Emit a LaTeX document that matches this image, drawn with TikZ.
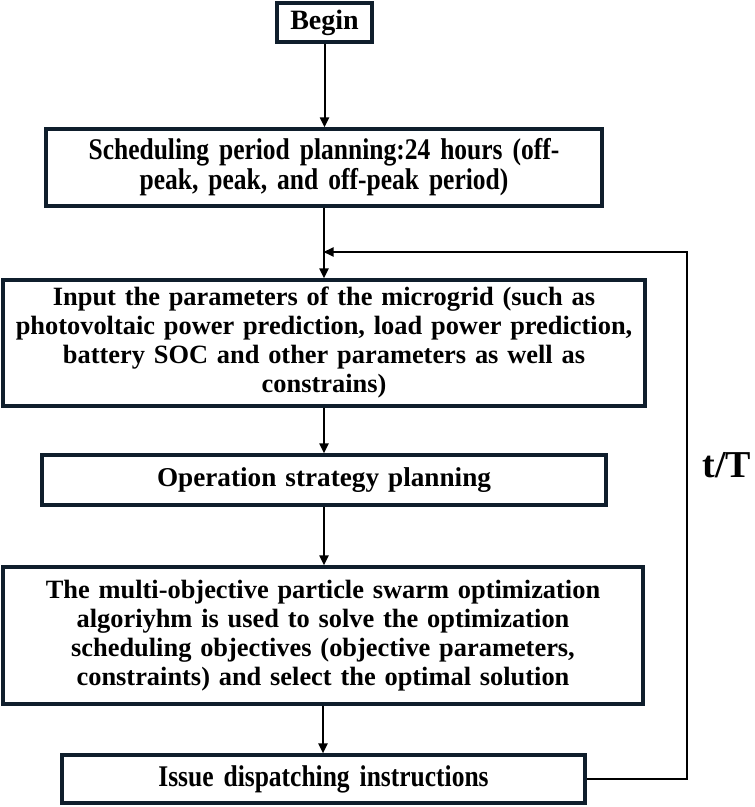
\documentclass[tikz,border=0pt]{standalone}
\usepackage{fontspec}
\setmainfont{Liberation Serif}
\newfontfamily\narrowserif[FakeStretch=0.85]{Liberation Serif}
\usetikzlibrary{arrows.meta,positioning}
\definecolor{boxnavy}{HTML}{0F1E2C}

\begin{document}
\begin{tikzpicture}[x=0.5pt,y=-0.5pt,
  every node/.style={font=\bfseries\fontsize{13.2}{14.5}\selectfont},
  box/.style={draw=boxnavy,line width=1.6pt,fill=white,align=center,inner sep=0pt},
  narrow/.style={font=\narrowserif\bfseries\fontsize{15}{15}\selectfont},
  flow/.style={line width=1pt,-{Triangle[length=5pt,width=4.5pt]}}]
\useasboundingbox (0,0) rectangle (754,807);
\node[box,font=\bfseries\fontsize{14}{16}\selectfont,minimum width=47.5pt,minimum height=19.5pt] (begin) at (324.5,22.5) {Begin};
\node[box,narrow,minimum width=278pt,minimum height=38.5pt,text width=270pt] (sched) at (324,167.5)
  {Scheduling period planning:24 hours (off-\\peak, peak, and off-peak period)};
\node[box,minimum width=321pt,minimum height=63pt,text width=318pt] (input) at (324,343)
  {Input the parameters of the microgrid (such as\\photovoltaic power prediction, load power prediction,\\battery SOC and other parameters as well as\\constrains)};
\node[box,font=\bfseries\fontsize{13.6}{15}\selectfont,minimum width=282pt,minimum height=25pt,text width=270pt] (oper) at (324,480)
  {Operation strategy planning};
\node[box,minimum width=320pt,minimum height=68.5pt,text width=318pt] (multi) at (323,635.5)
  {The multi-objective particle swarm optimization\\algoriyhm is used to solve the optimization\\scheduling objectives (objective parameters,\\constraints) and select the optimal solution};
\node[box,narrow,minimum width=261.5pt,minimum height=24pt,text width=255pt] (issue) at (323.5,779)
  {Issue dispatching instructions};
\coordinate (loopin) at (323.5,252);
\coordinate (loopbr) at (687,779);
\coordinate (looptr) at (687,252);
\draw[flow] (begin.south) -- (begin.south |- sched.north);
\draw[flow] (sched.south) -- (sched.south |- input.north);
\draw[flow] (input.south) -- (input.south |- oper.north);
\draw[flow] (oper.south) -- (oper.south |- multi.north);
\draw[flow] (multi.south) -- (multi.south |- issue.north);
\draw[flow] (issue.east) -- (loopbr) -- (looptr) -- (loopin);
\node[font=\bfseries\fontsize{19}{21}\selectfont] (tT) at (727,465) {t/T};
\end{tikzpicture}
\end{document}
